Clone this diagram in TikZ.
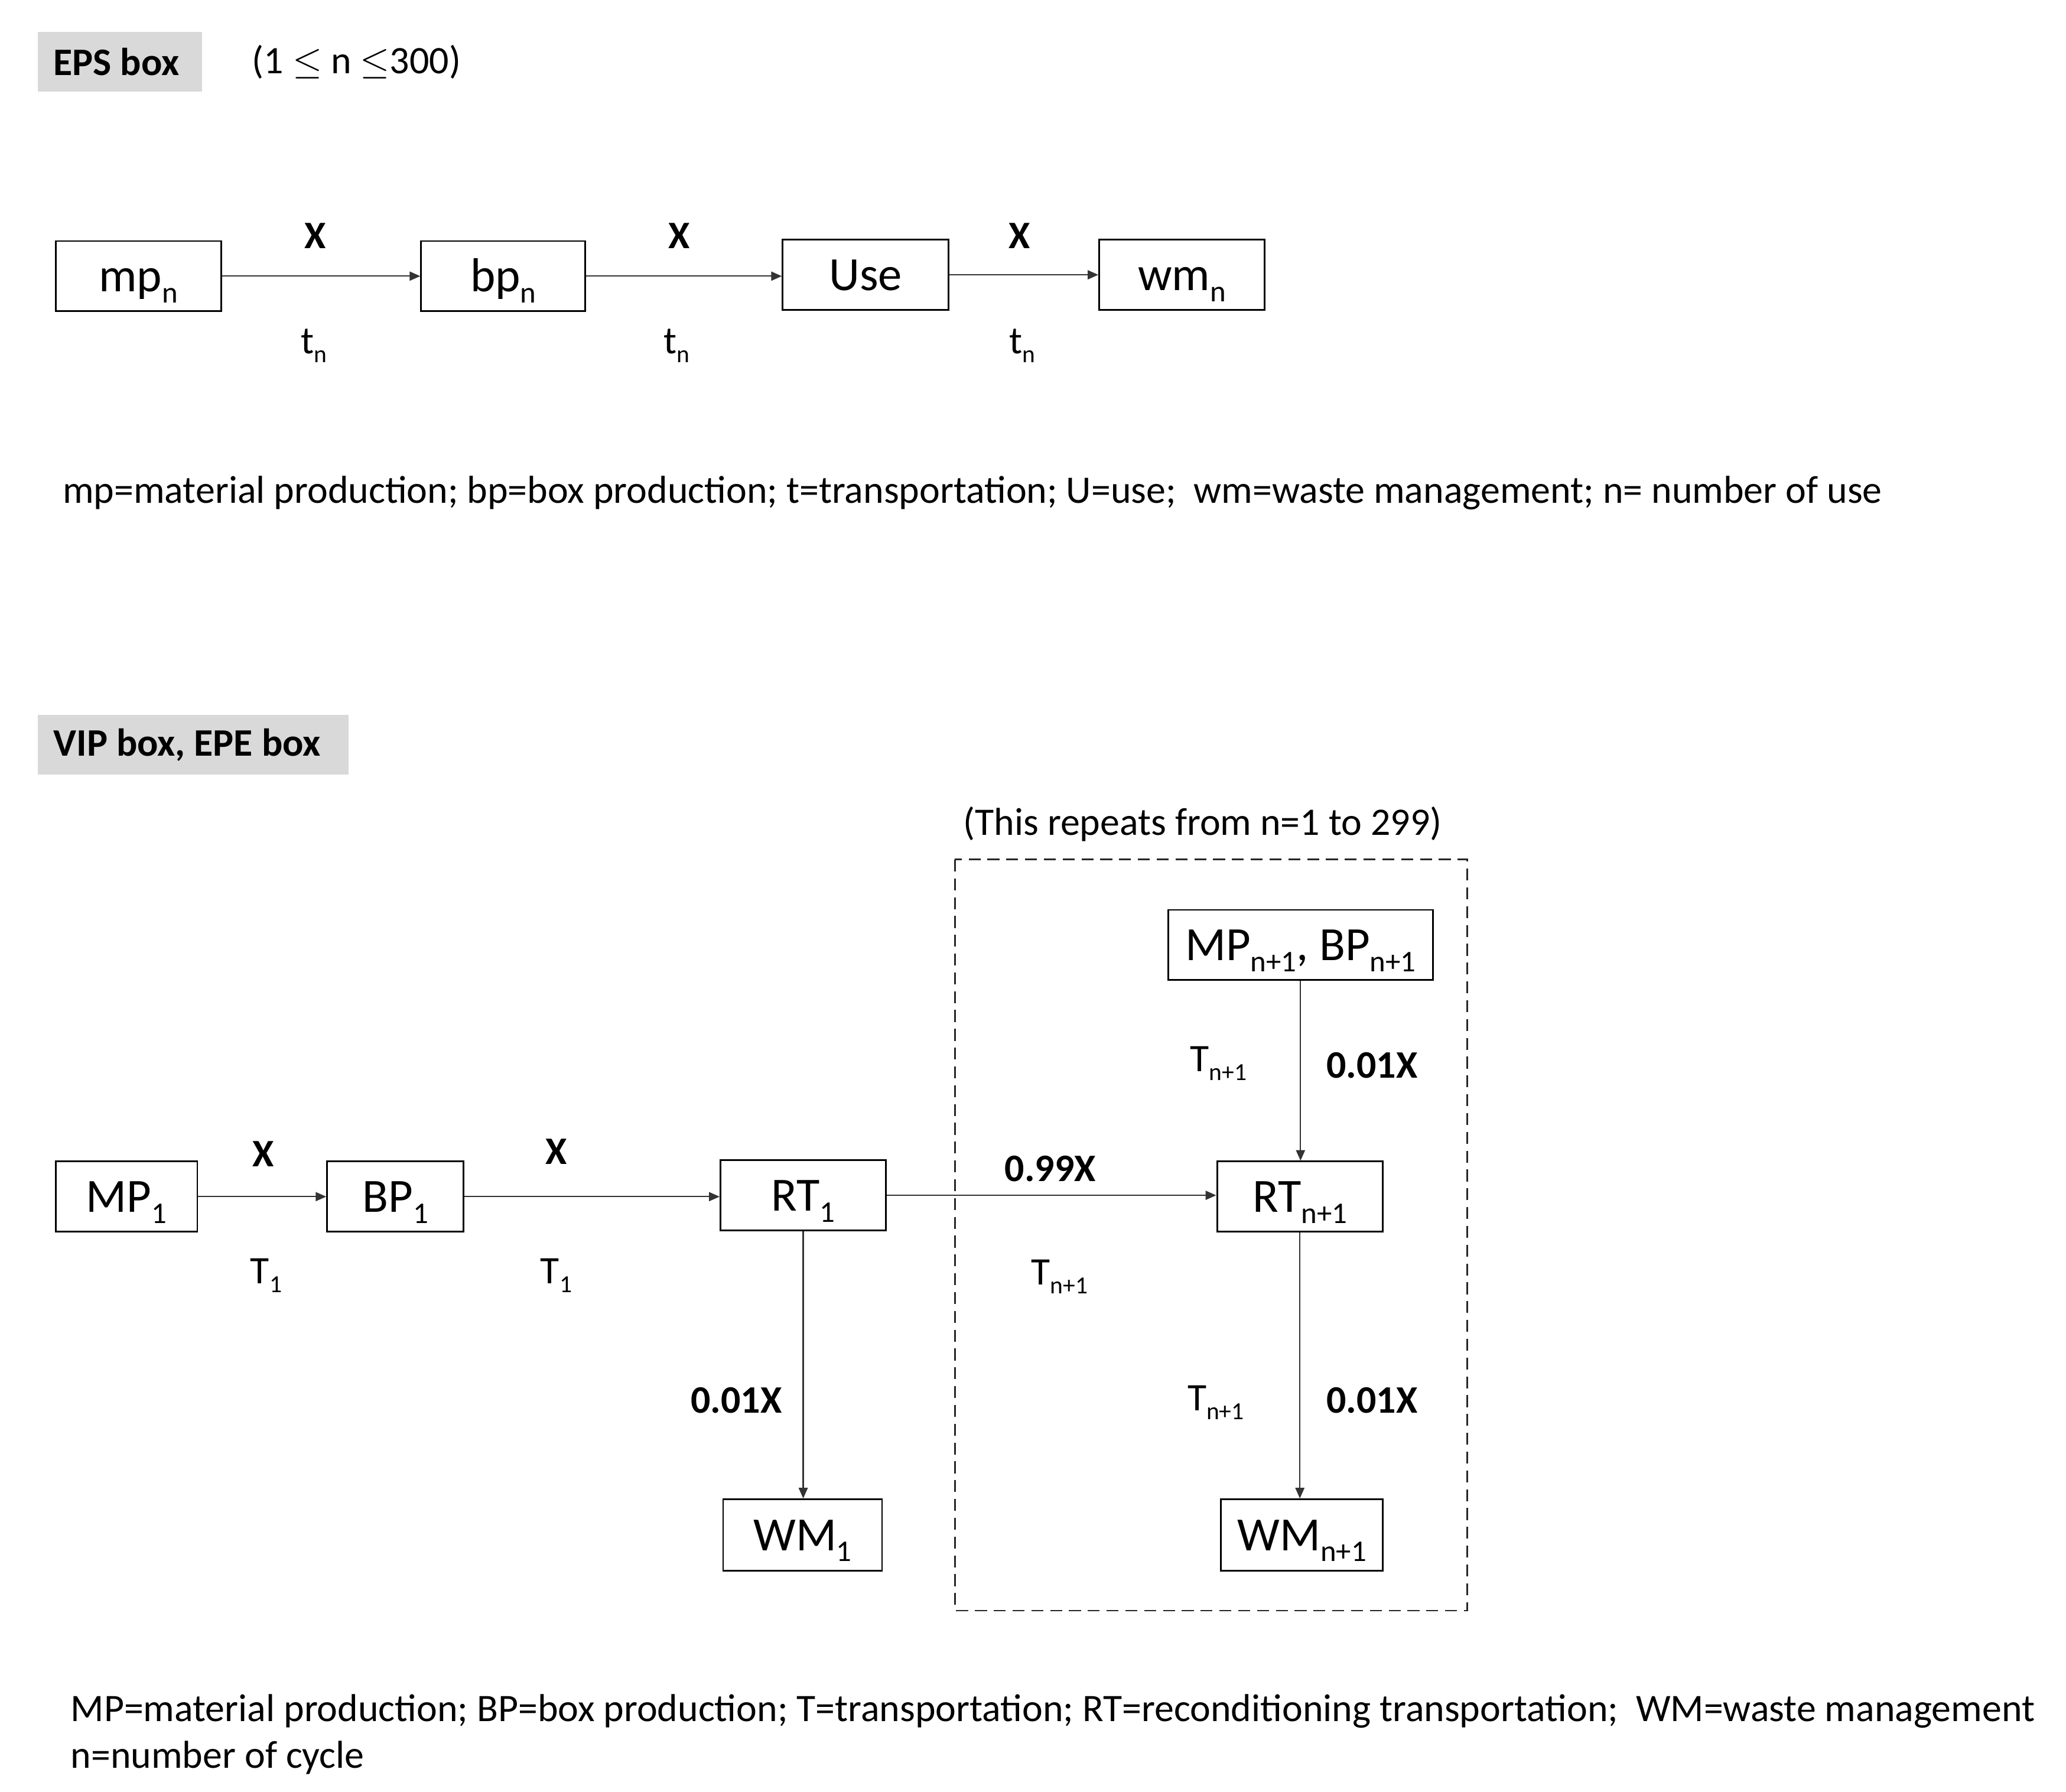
\documentclass[tikz,border=0pt]{standalone}
\usepackage{fontspec}
\setmainfont{Carlito}
\usepackage{graphicx}
\usetikzlibrary{arrows.meta}
\definecolor{hdrgray}{HTML}{D9D9D9}
\newcommand\sbs[1]{\raisebox{-0.23em}{\scalebox{0.63}{#1}}}
\begin{document}
\begin{tikzpicture}[x=0.5pt,y=-0.5pt,
  box/.style={draw=black, line width=0.65pt, inner sep=0pt, minimum height=26.5pt,
    text height=11.75pt, text depth=0pt, font=\fontsize{18}{21}\selectfont},
  lab/.style={inner sep=0pt, font=\fontsize{14.7}{17.5}\selectfont},
  blab/.style={inner sep=0pt, font=\fontsize{14.7}{17.5}\selectfont\bfseries},
  hdr/.style={fill=hdrgray, inner sep=0pt, inner xsep=6pt, minimum height=22.5pt,
    font=\fontsize{14.7}{17.5}\selectfont\bfseries, anchor=west},
  arr/.style={-{Triangle[length=4pt,width=3.4pt]}, line width=0.5pt, draw=black!80, fill=black!80},
  rep/.style={draw=black!85, line width=0.6pt, dash pattern=on 4.5pt off 2.6pt}]
\useasboundingbox (0,0) rectangle (1560,1353);

% ---------- EPS box ----------
\node[hdr] (hEPS) at (28,46.5) {\makebox[50pt][l]{EPS box}};
\node[lab, anchor=west] (range) at (190,47) {(1 $\leq$ n $\leq$300)};

\node[box, minimum width=62.5pt] (mp)  at (104.5,208.5) {mp\sbs{n}};
\node[box, minimum width=62pt]   (bp)  at (380,208.5)   {bp\sbs{n}};
\node[box, minimum width=62.5pt] (use) at (653.5,207.5) {Use};
\node[box, minimum width=62.5pt] (wm)  at (892.5,207.5) {wm\sbs{n}};

\draw[arr] (mp.east) -- (bp.west);
\draw[arr] (bp.east) -- (bp.east -| use.west);
\draw[arr] (use.east) -- (wm.west);

\node[blab, anchor=base] (x1) at (238,187.5) {X};
\node[blab, anchor=base] (x2) at (513,187.5) {X};
\node[blab, anchor=base] (x3) at (770,187.5) {X};
\node[lab, anchor=base] (t1) at (237,267) {t\sbs{n}};
\node[lab, anchor=base] (t2) at (511,267) {t\sbs{n}};
\node[lab, anchor=base] (t3) at (772,267) {t\sbs{n}};

\node[lab, anchor=west] (leg1) at (47,372)
  {mp=material production; bp=box production; t=transportation; U=use;\ \ wm=waste management; n= number of use};

% ---------- VIP box, EPE box ----------
\node[hdr] (hVIP) at (28,562.5) {\makebox[105.5pt][l]{VIP box, EPE box}};
\node[lab, anchor=west] (repeat) at (727,622) {(This repeats from n=1 to 299)};
\draw[rep] (721,649) rectangle (1108,1216);

\node[box, minimum width=100pt]  (MPBP) at (982,713.5) {MP\sbs{n+1}, BP\sbs{n+1}};
\node[box, minimum width=53.5pt] (MP1)  at (95.5,903.5) {MP\sbs{1}};
\node[box, minimum width=51.5pt] (BP1)  at (298.5,903.5) {BP\sbs{1}};
\node[box, minimum width=62.5pt] (RT1)  at (606.5,902.5) {RT\sbs{1}};
\node[box, minimum width=62.5pt] (RTn)  at (981.5,903.5) {RT\sbs{n+1}};
\node[box, minimum width=60pt, minimum height=27pt] (WM1) at (606,1159) {WM\sbs{1}};
\node[box, minimum width=61pt, minimum height=27pt] (WMn) at (983,1159) {WM\sbs{n+1}};

\draw[arr] (MP1.east) -- (BP1.west);
\draw[arr] (BP1.east) -- (BP1.east -| RT1.west);
\draw[arr] (RT1.east) -- (RT1.east -| RTn.west);
\draw[arr] (MPBP.south) -- (MPBP.south |- RTn.north);
\draw[arr] (RT1.south) -- (RT1.south |- WM1.north);
\draw[arr] (RTn.south) -- (RTn.south |- WMn.north);

\node[blab, anchor=base] (X1) at (199,881) {X};
\node[blab, anchor=base] (X2) at (420,879) {X};
\node[lab, anchor=base] (T1a) at (201,969) {T\sbs{1}};
\node[lab, anchor=base] (T1b) at (420,969) {T\sbs{1}};
\node[blab, anchor=base] (x99) at (793,892) {0.99X};
\node[lab, anchor=base] (Tm) at (800,970) {T\sbs{n+1}};
\node[lab, anchor=base] (Tu) at (920,809) {T\sbs{n+1}};
\node[blab, anchor=base] (xu) at (1036,814) {0.01X};
\node[blab, anchor=base] (xl) at (556,1067) {0.01X};
\node[lab, anchor=base] (Tl) at (918,1065) {T\sbs{n+1}};
\node[blab, anchor=base] (xr) at (1036,1067) {0.01X};

\node[lab, anchor=west] (leg2a) at (53,1292)
  {MP=material production; BP=box production; T=transportation; RT=reconditioning transportation;\ \ WM=waste management};
\node[lab, anchor=west] (leg2b) at (53,1327) {n=number of cycle};
\end{tikzpicture}
\end{document}
